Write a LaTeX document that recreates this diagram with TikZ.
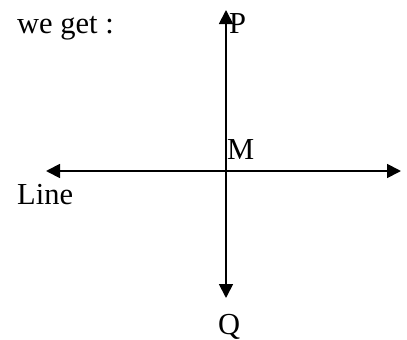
\documentclass[tikz,border=0pt]{standalone}
\usepackage{fontspec}
\setmainfont{Liberation Serif}
\usetikzlibrary{arrows.meta}
\begin{document}
\begin{tikzpicture}[x=1pt,y=-1pt,
  lbl/.style={anchor=base west,inner sep=0pt,font=\fontsize{30.5}{30.5}\selectfont},
  axis/.style={line width=1.8pt,{Triangle[length=14pt,width=14pt]}-{Triangle[length=14pt,width=14pt]}}]
\useasboundingbox (0,0) rectangle (407,340);
\coordinate (top) at (226,10);
\coordinate (bot) at (226,298);
\coordinate (lft) at (46,171);
\coordinate (rgt) at (401,171);
\draw[axis] (bot) -- (top);
\draw[axis] (lft) -- (rgt);
\node[lbl] (we) at (17,33) {we get :};
\node[lbl] (P) at (229,33) {P};
\node[lbl] (M) at (227,159) {M};
\node[lbl] (Line) at (17,204) {Line};
\node[lbl] (Q) at (218,334) {Q};
\end{tikzpicture}
\end{document}
